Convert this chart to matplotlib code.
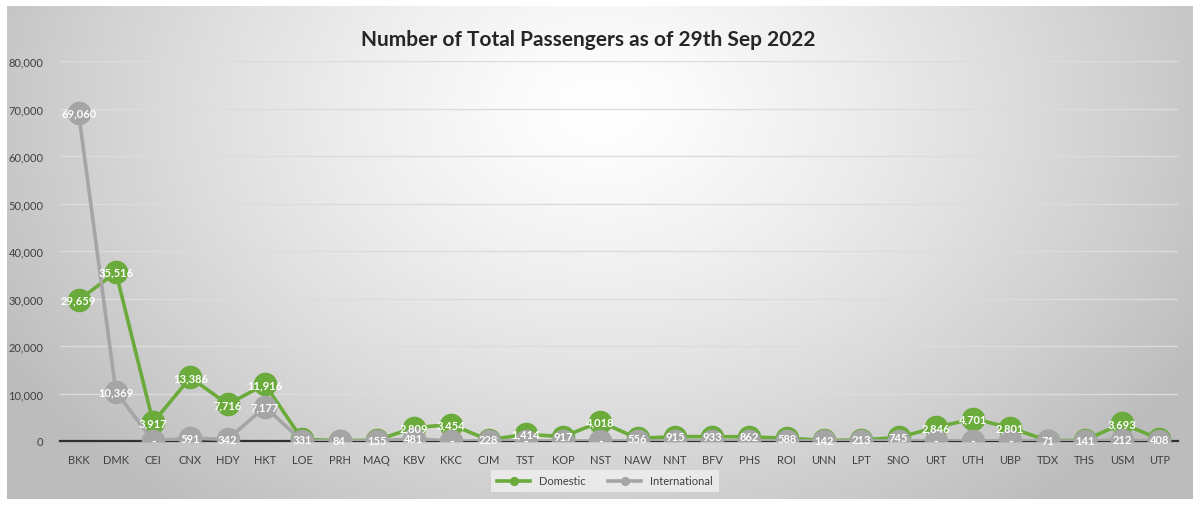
import numpy as np
import matplotlib.pyplot as plt
from matplotlib.ticker import FuncFormatter

airports = ["BKK", "DMK", "CEI", "CNX", "HDY", "HKT", "LOE", "PRH", "MAQ", "KBV",
            "KKC", "CJM", "TST", "KOP", "NST", "NAW", "NNT", "BFV", "PHS", "ROI",
            "UNN", "LPT", "SNO", "URT", "UTH", "UBP", "TDX", "THS", "USM", "UTP"]
domestic = [29659, 35516, 3917, 13386, 7716, 11916, 331, 84, 155, 2809,
            3454, 228, 1414, 917, 4018, 556, 915, 933, 862, 588,
            142, 213, 745, 2846, 4701, 2801, 71, 141, 3693, 408]
international = [69060, 10369, 0, 591, 342, 7177, 0, 0, 0, 481,
                 0, 0, 0, 0, 0, 0, 0, 0, 0, 0,
                 0, 0, 0, 0, 0, 0, 0, 0, 212, 0]

green = "#6aab3c"
grey = "#a5a5a5"
W, H = 1202, 510

fig = plt.figure(figsize=(W / 100, H / 100), dpi=100)
fig.patch.set_facecolor("white")

# background panel with radial gradient
bg = fig.add_axes([7 / W, 1 - 500 / H, (1193 - 7) / W, (500 - 7) / H])
yy, xx = np.mgrid[7:500, 7:1193]
r = np.sqrt(((xx - 600) / 650.0) ** 2 + ((yy - 110) / 480.0) ** 2)
r = np.clip(r, 0, 1.05)
val = (255 - 62 * r ** 1.3) / 255.0
img = np.dstack([val, val, val])
bg.imshow(img, aspect="auto", extent=[0, 1, 0, 1])
bg.set_axis_off()

ax = fig.add_axes([60 / W, 1 - 442 / H, (1178 - 60) / W, (442 - 62) / H])
ax.set_facecolor("none")
x = np.arange(len(airports))

ax.plot(x, domestic, color=green, lw=2.6, marker="o", ms=16, mec=green, mfc=green,
        zorder=3, label="Domestic")
ax.plot(x, international, color=grey, lw=2.6, marker="o", ms=16, mec=grey, mfc=grey,
        zorder=4, label="International")

lab = dict(ha="center", va="center", color="white", fontsize=8, fontweight="bold",
           family="Lato", zorder=6)
for i in range(len(x)):
    ax.text(x[i], domestic[i], f"{domestic[i]:,}", **lab)
    if international[i] > 0:
        ax.text(x[i], international[i], f"{international[i]:,}", **lab)
    elif domestic[i] > 1000:
        ax.text(x[i], 0, "-", **dict(lab, fontsize=9))

ax.set_xlim(-0.5, len(x) - 0.5)
ax.set_ylim(0, 80000)
ax.set_yticks(np.arange(0, 80001, 10000))
ax.yaxis.set_major_formatter(FuncFormatter(lambda v, p: f"{int(v):,}"))
ax.set_xticks(x)
ax.set_xticklabels(airports)
ax.grid(axis="y", color="#dcdcdc", lw=1.0)
ax.set_axisbelow(True)
for s in ["top", "right", "left"]:
    ax.spines[s].set_visible(False)
ax.spines["bottom"].set_color("#303030")
ax.spines["bottom"].set_linewidth(1.6)
ax.spines["bottom"].set_zorder(2)
ax.tick_params(length=0, labelsize=8, colors="#404040", pad=9)
ax.tick_params(axis="y", pad=12)
for t in ax.get_xticklabels() + ax.get_yticklabels():
    t.set_family("Lato")

fig.text(588 / W, 1 - 40 / H, "Number of Total Passengers as of 29th Sep 2022",
         ha="center", va="center", fontsize=15, fontweight="bold", color="#262626",
         family="Lato")

leg = ax.legend(loc="center", bbox_to_anchor=(605 / W, 1 - 482 / H),
                bbox_transform=fig.transFigure, ncol=2, frameon=True,
                fontsize=8, markerscale=0.35, handlelength=3, columnspacing=2,
                borderpad=0.5, fancybox=False)
leg.get_frame().set_facecolor("#f0f0f0")
leg.get_frame().set_edgecolor("none")
for t in leg.get_texts():
    t.set_family("Lato")
    t.set_color("#404040")

fig.savefig("out.png", dpi=100)
